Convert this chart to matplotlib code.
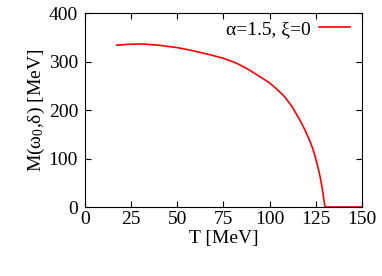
import numpy as np
import matplotlib
matplotlib.use("Agg")
import matplotlib.pyplot as plt

plt.rcParams['font.family'] = ['Liberation Serif', 'DejaVu Serif']
plt.rcParams['mathtext.fontset'] = 'custom'
plt.rcParams['mathtext.rm'] = 'Liberation Serif'

# Data
T = [17.2, 24.0, 31.6, 40.0, 50.0, 58.0, 66.0, 75.0, 82.0, 88.0, 94.0, 100.0,
     104.0, 108.0, 112.0, 116.0, 119.0, 121.5, 123.5, 125.0, 126.3, 127.3,
     128.2, 128.9, 129.4, 129.8, 130.2, 135.0, 150.0]
M = [334, 336, 336.5, 334, 329, 323, 316, 307, 297, 285, 271, 256,
     243, 228, 208, 182, 160, 139, 119, 99, 80, 63,
     45, 28, 14, 5, 0, 0, 0]
label = "α=1.5, ξ=0"
xticks = [0, 25, 50, 75, 100, 125, 150]
yticks = [0, 100, 200, 300, 400]

fs = 14
fig = plt.figure(figsize=(3.82, 2.76), dpi=100)
ax = fig.add_axes([0.2225, 0.25, 0.725, 0.702])
ax.plot(T, M, color='#ff0000', lw=1.2, label=label)
ax.set_xlim(0, 150)
ax.set_ylim(0, 400)
ax.set_xticks(xticks)
ax.set_yticks(yticks)
ax.tick_params(direction='in', top=True, right=True, length=4, width=0.8,
               labelsize=fs)
ax.tick_params(axis='x', pad=3)
ax.tick_params(axis='y', pad=5)
for s in ax.spines.values():
    s.set_linewidth(0.8)
ax.set_xlabel("T [MeV]", fontsize=fs, labelpad=1)
ax.set_ylabel(r"M($\mathregular{ω_0}$,δ) [MeV]", fontsize=fs, labelpad=1)
ax.legend(loc='upper right', frameon=False, fontsize=fs, markerfirst=False,
          handlelength=1.6, handletextpad=0.4, borderaxespad=0.0,
          bbox_to_anchor=(0.985, 1.005))
fig.savefig("out.png", dpi=100)
